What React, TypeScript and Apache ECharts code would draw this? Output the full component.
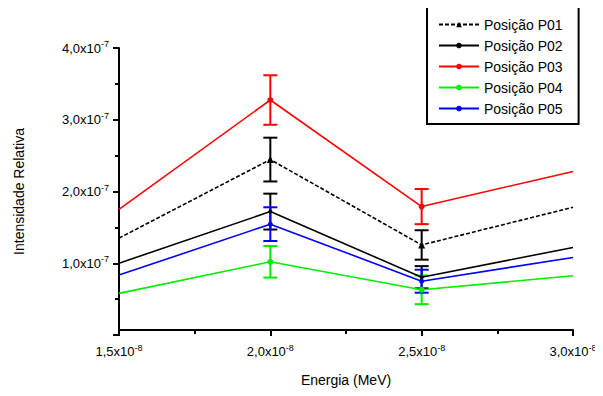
import React, { useEffect, useRef } from "react";
import * as echarts from "echarts";

// Energy in units of 1e-8 MeV
const energy = [1.5, 2.0, 2.5, 3.0];
// Relative intensity in units of 1e-7
const p01 = [1.35, 2.445, 1.255, 1.78];
const p02 = [1.0, 1.72, 0.805, 1.22];
const p03 = [1.75, 3.275, 1.79, 2.28];
const p04 = [0.58, 1.02, 0.63, 0.825];
const p05 = [0.835, 1.545, 0.75, 1.08];
// Error half-widths (null = no error bar)
const p01Err = [null, 0.305, 0.205, null];
const p02Err = [null, 0.25, 0.155, null];
const p03Err = [null, 0.345, 0.245, null];
const p04Err = [null, 0.22, 0.2, null];
const p05Err = [null, 0.235, 0.16, null];

const names = ["Posição P01", "Posição P02", "Posição P03", "Posição P04", "Posição P05"];
const yTicks = [0, 1, 2, 3, 4];
const xTicks = [1.5, 2.0, 2.5, 3.0];

const FONT = "'Liberation Sans', Arial, sans-serif";

const fmt = (v: number) => v.toFixed(1).replace(".", ",");

export default function App() {
  const ref = useRef<HTMLDivElement>(null);
  useEffect(() => {
    if (!ref.current) return;
    const chart = echarts.init(ref.current, undefined, { renderer: "svg" });

    const seriesDefs = [
      { name: names[0], vals: p01, err: p01Err, color: "#000000", symbol: "triangle", size: 7, dash: [4, 2] as any },
      { name: names[1], vals: p02, err: p02Err, color: "#000000", symbol: "circle", size: 4, dash: "solid" as any },
      { name: names[2], vals: p03, err: p03Err, color: "#ff0000", symbol: "circle", size: 6, dash: "solid" as any },
      { name: names[3], vals: p04, err: p04Err, color: "#00ee00", symbol: "circle", size: 6, dash: "solid" as any },
      { name: names[4], vals: p05, err: p05Err, color: "#0000ff", symbol: "circle", size: 5, dash: "solid" as any },
    ];

    const lineSeries = seriesDefs.map((s) => ({
      type: "line",
      name: s.name,
      symbol: s.symbol,
      symbolSize: s.size,
      showSymbol: true,
      color: s.color,
      lineStyle: { color: s.color, width: 1.6, type: s.dash },
      itemStyle: { color: s.color },
      data: energy.map((x, i) =>
        s.err[i] == null
          ? { value: [x, s.vals[i]], symbol: "none" }
          : { value: [x, s.vals[i]] }
      ),
      z: 3,
    }));

    const errSeries = seriesDefs.map((s) => ({
      type: "custom",
      silent: true,
      z: 2,
      data: energy
        .map((x, i) => (s.err[i] == null ? null : [x, s.vals[i] - (s.err[i] as number), s.vals[i] + (s.err[i] as number)]))
        .filter((d) => d !== null),
      encode: { x: 0, y: [1, 2] },
      renderItem: (params: any, api: any) => {
        const lo = api.coord([api.value(0), api.value(1)]);
        const hi = api.coord([api.value(0), api.value(2)]);
        const hw = 7;
        const st = { stroke: s.color, lineWidth: 2 };
        return {
          type: "group",
          children: [
            { type: "line", shape: { x1: lo[0], y1: lo[1], x2: hi[0], y2: hi[1] }, style: st },
            { type: "line", shape: { x1: lo[0] - hw, y1: lo[1], x2: lo[0] + hw, y2: lo[1] }, style: st },
            { type: "line", shape: { x1: hi[0] - hw, y1: hi[1], x2: hi[0] + hw, y2: hi[1] }, style: st },
          ],
        };
      },
    }));

    const rich = {
      m: { fontSize: 13, fontFamily: FONT, color: "#000", lineHeight: 17 },
      e: { fontSize: 9, fontFamily: FONT, color: "#000", padding: [0, 0, 8, 0] },
    };

    chart.setOption({
      animation: false,
      backgroundColor: "#ffffff",
      textStyle: { fontFamily: FONT },
      grid: { left: 119, right: 30, top: 48, bottom: 61, containLabel: false },
      legend: {
        orient: "vertical",
        left: 427,
        top: 6,
        padding: [11, 16, 8, 11],
        itemWidth: 40,
        itemHeight: 7,
        itemGap: 6,
        borderColor: "#000",
        borderWidth: 2,
        backgroundColor: "#fff",
        textStyle: { fontSize: 14, fontFamily: FONT, color: "#000", lineHeight: 15 },
        data: names,
      },
      xAxis: {
        type: "value",
        min: xTicks[0],
        max: xTicks[xTicks.length - 1],
        interval: 0.5,
        offset: -5,
        name: "Energia (MeV)",
        nameLocation: "middle",
        nameGap: 43,
        nameTextStyle: { fontSize: 14, fontFamily: FONT, color: "#000" },
        axisLine: { show: true, lineStyle: { color: "#000", width: 2 } },
        axisTick: { show: true, length: 6, lineStyle: { color: "#000", width: 2 } },
        minorTick: { show: true, splitNumber: 2, length: 4, lineStyle: { color: "#000", width: 2 } },
        splitLine: { show: false },
        axisLabel: {
          margin: 13,
          formatter: (v: number) => `{m|${fmt(v)}x10}{e|-8}`,
          rich,
        },
      },
      yAxis: {
        type: "value",
        min: yTicks[0],
        max: yTicks[yTicks.length - 1],
        interval: 1,
        name: "Intensidade Relativa",
        nameLocation: "middle",
        nameGap: 93,
        nameTextStyle: { fontSize: 14, fontFamily: FONT, color: "#000" },
        axisLine: { show: true, lineStyle: { color: "#000", width: 2 } },
        axisTick: { show: true, length: 6, lineStyle: { color: "#000", width: 2 } },
        minorTick: { show: true, splitNumber: 2, length: 4, lineStyle: { color: "#000", width: 2 } },
        splitLine: { show: false },
        axisLabel: {
          margin: 10,
          showMinLabel: false,
          formatter: (v: number) => (v === 0 ? "" : `{m|${fmt(v)}x10}{e|-7}`),
          rich,
        },
      },
      series: [...errSeries, ...lineSeries],
    });
    return () => chart.dispose();
  }, []);
  return <div ref={ref} style={{ width: 603, height: 396, margin: -8 }} />;
}
